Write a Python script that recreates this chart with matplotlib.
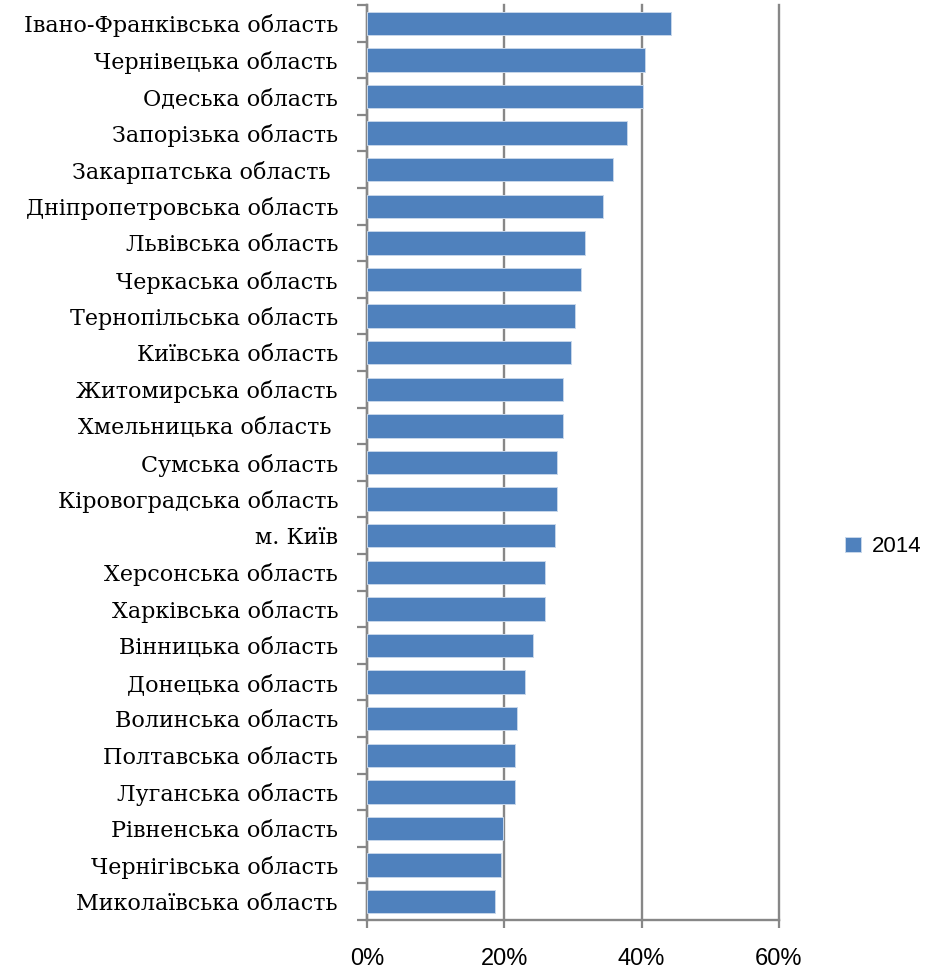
import matplotlib
matplotlib.use("Agg")
import matplotlib.pyplot as plt
from matplotlib.ticker import FixedLocator, PercentFormatter

regions = [
    "Івано-Франківська область",
    "Чернівецька область",
    "Одеська область",
    "Запорізька область",
    "Закарпатська область ",
    "Дніпропетровська область",
    "Львівська область",
    "Черкаська область",
    "Тернопільська область",
    "Київська область",
    "Житомирська область",
    "Хмельницька область ",
    "Сумська область",
    "Кіровоградська область",
    "м. Київ",
    "Херсонська область",
    "Харківська область",
    "Вінницька область",
    "Донецька область",
    "Волинська область",
    "Полтавська область",
    "Луганська область",
    "Рівненська область",
    "Чернігівська область",
    "Миколаївська область",
]
values_2014 = [44.3, 40.5, 40.2, 37.8, 35.8, 34.4, 31.7, 31.1, 30.3, 29.7,
               28.5, 28.5, 27.7, 27.7, 27.4, 25.9, 25.9, 24.2, 23.0, 21.8,
               21.5, 21.5, 19.8, 19.5, 18.6]
series_name = "2014"
x_ticks = [0, 20, 40, 60]

GRID = "#878787"

fig = plt.figure(figsize=(9.25, 9.71), dpi=100)
ax = fig.add_axes([367/925, 1-920/971, (779-367)/925, (920-5)/971])

n = len(regions)
ypos = list(range(n))
ax.barh(ypos, values_2014, height=0.64, color="#4F81BD", edgecolor="#C6D6EA",
        linewidth=0.7, label=series_name, zorder=3)
ax.set_ylim(n - 0.5, -0.5)
ax.set_xlim(0, 60)

ax.set_yticks(ypos)
ax.set_yticklabels(regions, fontfamily="DejaVu Serif", fontsize=16)
ax.yaxis.set_minor_locator(FixedLocator([i - 0.5 for i in range(n + 1)]))
ax.tick_params(axis="y", which="major", length=0, pad=29 * 0.72)
ax.tick_params(axis="y", which="minor", length=7, width=1.6, color=GRID)

ax.xaxis.set_major_locator(FixedLocator(x_ticks))
ax.xaxis.set_major_formatter(PercentFormatter(decimals=0))
ax.tick_params(axis="x", length=6, width=1.6, color=GRID, labelsize=17, pad=14)
for lab in ax.get_xticklabels():
    lab.set_fontfamily("Liberation Sans")

ax.grid(axis="x", color=GRID, linewidth=1.7, zorder=0, clip_on=False)
for s in ["top", "right"]:
    ax.spines[s].set_visible(False)
for s in ["left", "bottom"]:
    ax.spines[s].set_color(GRID)
    ax.spines[s].set_linewidth(1.7)

leg = fig.legend(loc="center left", bbox_to_anchor=(845/925, 1-547/971), frameon=False,
                 handlelength=0.7, handleheight=0.7, handletextpad=0.5,
                 borderpad=0, borderaxespad=0,
                 prop={"family": "Liberation Sans", "size": 16})

fig.savefig("out.png", dpi=100)
